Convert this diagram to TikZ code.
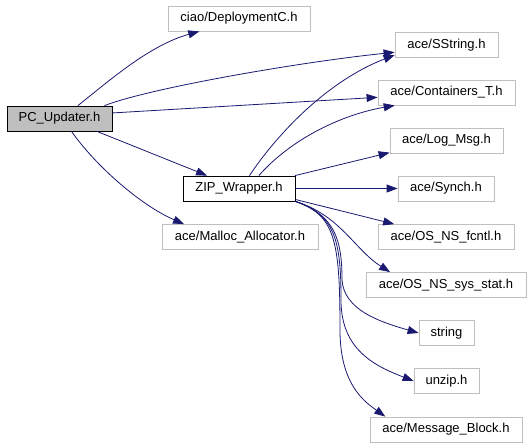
\documentclass[tikz,border=0pt]{standalone}
\usepackage{fontspec}
\setmainfont{Liberation Sans}
\usetikzlibrary{arrows.meta}
\definecolor{edgecol}{HTML}{191970}
\definecolor{boxgray}{HTML}{BFBFBF}
\tikzset{
  filebox/.style={draw=boxgray, line width=0.8pt, inner sep=0pt, minimum height=25pt, font=\fontsize{13}{15}\selectfont},
  mainbox/.style={filebox, draw=black},
  dep/.style={draw=edgecol, line width=0.8pt, -{Triangle[length=11pt,width=8pt]}, color=edgecol}
}
\begin{document}
\begin{tikzpicture}[x=1pt,y=-1pt]
\useasboundingbox (0,0) rectangle (531,445);
\node[mainbox, fill=boxgray, minimum width=105pt] (pc) at (59.5,118.5) {PC\_Updater.h};
\node[filebox, minimum width=142pt] (ciao) at (239,18.5) {ciao/DeploymentC.h};
\node[filebox, minimum width=103pt] (sstr) at (446.5,45) {ace/SString.h};
\node[filebox, minimum width=137pt] (cont) at (446.5,92.5) {ace/Containers\_T.h};
\node[filebox, minimum width=113pt] (log) at (446.5,140.5) {ace/Log\_Msg.h};
\node[filebox, minimum width=96pt] (synch) at (446,188.5) {ace/Synch.h};
\node[mainbox, minimum width=112pt] (zip) at (239,188.5) {ZIP\_Wrapper.h};
\node[filebox, minimum width=156pt] (malloc) at (240,237) {ace/Malloc\_Allocator.h};
\node[filebox, minimum width=136pt] (fcntl) at (446,237) {ace/OS\_NS\_fcntl.h};
\node[filebox, minimum width=160pt] (stat) at (446,285) {ace/OS\_NS\_sys\_stat.h};
\node[filebox, minimum width=55pt] (string) at (446.5,333) {string};
\node[filebox, minimum width=65pt] (unzip) at (446.5,381) {unzip.h};
\node[filebox, minimum width=152pt] (msg) at (446,429.5) {ace/Message\_Block.h};

\draw[dep] (pc.35) .. controls (110,80) and (150,45) .. (ciao.198);
\draw[dep] (pc.16) .. controls (150,88) and (300,62) .. (sstr.188);
\draw[dep] (pc.6) -- (cont.184);
\draw[dep] (pc.-19) -- (zip.158);
\draw[dep] (pc.-47) .. controls (95,165) and (140,205) .. (malloc.167);
\draw[dep] (zip.51) .. controls (280,130) and (330,80) .. (sstr.191);
\draw[dep] (zip.33) .. controls (290,140) and (340,115) .. (cont.194);
\draw[dep] (zip.13) -- (log.192);
\draw[dep] (zip.east) -- (synch.west);
\draw[dep] (zip.-11) -- (fcntl.166);
\draw[dep] (zip.south east) .. controls (340,215) and (355,250) .. (stat.167);
\draw[dep] (zip.south east) .. controls (335,215) and (342,240) .. (342,280) .. controls (344,310) and (380,322) .. (string.west);
\draw[dep] (zip.south east) .. controls (335,215) and (341,240) .. (341,300) .. controls (341,350) and (375,366) .. (unzip.west);
\draw[dep] (zip.south east) .. controls (335,215) and (340,240) .. (340,330) .. controls (340,385) and (365,402) .. (msg.168);
\end{tikzpicture}
\end{document}
